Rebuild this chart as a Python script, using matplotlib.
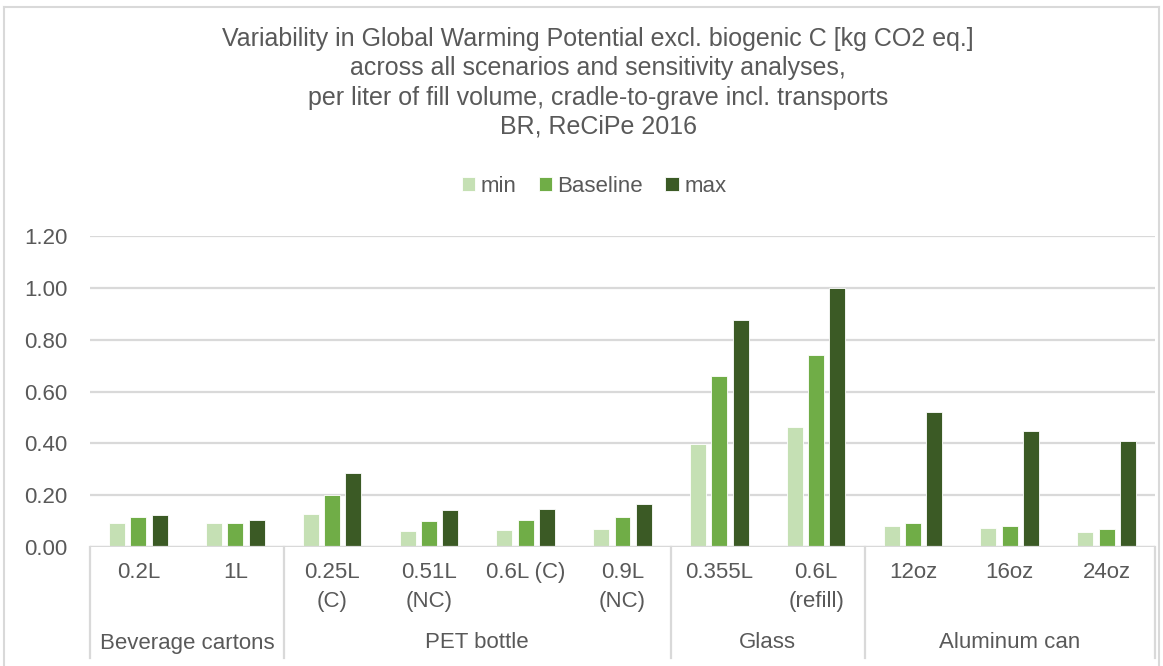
import matplotlib
matplotlib.use("Agg")
import matplotlib.pyplot as plt
from matplotlib.lines import Line2D
import matplotlib.transforms as mtransforms

plt.rcParams["font.family"] = ["Liberation Sans", "DejaVu Sans"]

sub_labels = ["0.2L", "1L", "0.25L\n(C)", "0.51L\n(NC)", "0.6L (C)", "0.9L\n(NC)",
              "0.355L", "0.6L\n(refill)", "12oz", "16oz", "24oz"]
groups = ["Beverage cartons", "PET bottle", "Glass", "Aluminum can"]
group_sizes = [2, 4, 2, 3]

gwp_min = [0.093, 0.093, 0.127, 0.060, 0.065, 0.070, 0.396, 0.462, 0.082, 0.073, 0.059]
gwp_base = [0.114, 0.093, 0.200, 0.099, 0.104, 0.117, 0.659, 0.740, 0.093, 0.082, 0.069]
gwp_max = [0.122, 0.104, 0.287, 0.143, 0.148, 0.164, 0.874, 1.000, 0.519, 0.448, 0.409]

series = [("min", gwp_min, "#c5e0b4"),
          ("Baseline", gwp_base, "#70ad47"),
          ("max", gwp_max, "#3b5a25")]

title = ("Variability in Global Warming Potential excl. biogenic C [kg CO2 eq.]\n"
         "across all scenarios and sensitivity analyses,\n"
         "per liter of fill volume, cradle-to-grave incl. transports\n"
         "BR, ReCiPe 2016")

W, H = 1163, 666
txt = "#595959"
grid_c = "#d9d9d9"
fs = 16

fig = plt.figure(figsize=(W / 100, H / 100), dpi=100)
ax = fig.add_axes([90 / W, 1 - 547 / H, (1155 - 90) / W, (547 - 236) / H])

x = list(range(len(sub_labels)))
width = 0.165
step = 0.22
for i, (name, vals, col) in enumerate(series):
    ax.bar([xi + (i - 1) * step for xi in x], vals, width=width, color=col,
           edgecolor="white", linewidth=0.6, label=name, zorder=3)

ax.set_xlim(-0.5, len(sub_labels) - 0.5)
ax.set_ylim(0, 1.2)
ax.set_yticks([0, 0.2, 0.4, 0.6, 0.8, 1.0, 1.2])
ax.set_yticklabels([f"{v:.2f}" for v in ax.get_yticks()])
ax.tick_params(axis="y", length=0, pad=16, labelsize=fs, labelcolor=txt)
ax.tick_params(axis="x", length=0, labelbottom=False)
ax.yaxis.grid(True, color=grid_c, linewidth=1.6, zorder=0)
for s in ax.spines.values():
    s.set_visible(False)
ax.axhline(0, color=grid_c, linewidth=1.6, zorder=4)

# two-level category axis drawn below the plot
trans = mtransforms.blended_transform_factory(ax.transData, fig.transFigure)
for xi, lab in zip(x, sub_labels):
    ax.text(xi, 1 - 562 / H, lab, transform=trans, ha="center", va="top",
            fontsize=fs, color=txt, linespacing=1.5)

edges = [-0.5]
for n in group_sizes:
    edges.append(edges[-1] + n)
for e in edges:
    fig.add_artist(Line2D([e, e], [1 - 547 / H, 1 - 658 / H], transform=trans,
                          color=grid_c, linewidth=1.6))
for g, a, b in zip(groups, edges[:-1], edges[1:]):
    ax.text((a + b) / 2, 1 - 643 / H, g, transform=trans, ha="center",
            va="center", fontsize=fs, color=txt)

fig.text(598 / W, 1 - 83 / H, title, ha="center", va="center", fontsize=18,
         color=txt, linespacing=1.27)

fig.legend(loc="center", bbox_to_anchor=(594 / W, 1 - 186 / H), ncol=3,
           frameon=False, fontsize=fs, labelcolor=txt, handlelength=0.6,
           handleheight=0.6, handletextpad=0.25, columnspacing=1.0)

# light chart-area frame (left, top, right)
for xs, ys in [([4, 4], [0, 7]), ([4, 1159], [7, 7]), ([1159, 1159], [7, 0])]:
    fig.add_artist(Line2D([v / W for v in xs], [1 - v / H if v else 0 for v in ys],
                          transform=fig.transFigure, color=grid_c, linewidth=1.5))

fig.savefig("out.png", dpi=100)
